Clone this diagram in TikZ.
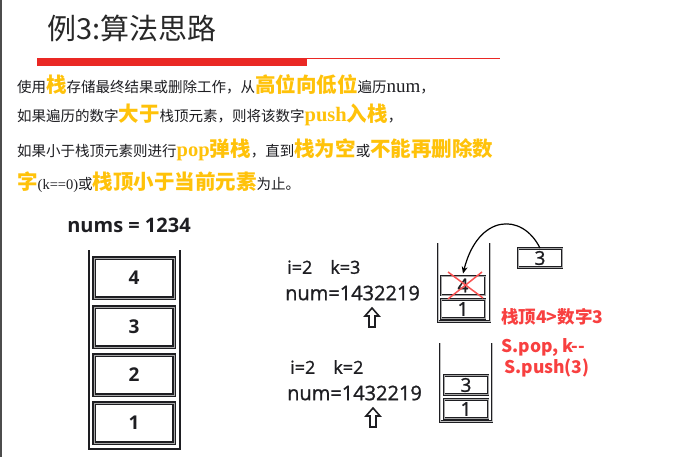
\documentclass[tikz,border=0pt]{standalone}
\usepackage{fontspec}
\setmainfont{Liberation Serif}
\newfontfamily\cjk{Noto Sans CJK SC}
\newfontfamily\osans{Open Sans}
\newfontfamily\osansmed[FakeBold=1.2]{Open Sans}
\usetikzlibrary{arrows.meta,calc,positioning}

\definecolor{hiyellow}{RGB}{255,194,10}
\definecolor{barred}{RGB}{234,40,36}
\definecolor{notered}{RGB}{248,64,64}
\definecolor{titlegray}{RGB}{40,40,40}
\definecolor{inkblack}{RGB}{30,30,34}

\newcommand{\hl}[1]{{\bfseries\fontsize{20.5}{20.5}\selectfont\color{hiyellow}#1}}
\newcommand{\hlrm}[1]{{\rmfamily\bfseries\fontsize{20.5}{20.5}\selectfont\color{hiyellow}#1}}
\newcommand{\lat}[2][14.5]{{\rmfamily\fontsize{#1}{#1}\selectfont #2}}

\begin{document}
\begin{tikzpicture}[x=1pt,y=-1pt,
  textline/.style={anchor=base west,inner sep=0pt,text=inkblack,
    font=\cjk\fontsize{14.5}{14.5}\selectfont},
  bigbox/.style={draw=inkblack,line width=1.2pt,double=black!35,double distance=0.7pt,
    minimum width=80,minimum height=40,inner sep=0pt,
    font=\osans\bfseries\fontsize{19}{19}\selectfont,text=inkblack},
  smallbox/.style={draw=inkblack,line width=0.9pt,double=black!35,double distance=0.6pt,
    minimum width=44,minimum height=19,inner sep=0pt,
    font=\osansmed\fontsize{19}{19}\selectfont,text=inkblack},
  info/.style={anchor=west,inner sep=0pt,text=inkblack,
    font=\osansmed\fontsize{18}{18}\selectfont},
  numline/.style={anchor=west,inner sep=0pt,text=inkblack,
    font=\osansmed\fontsize{20}{20}\selectfont},
  note/.style={anchor=west,inner sep=0pt,text=notered,
    font=\cjk\bfseries\fontsize{17.5}{17.5}\selectfont},
  wall/.style={draw=inkblack,line width=2.6pt},
  thinwall/.style={draw=inkblack,line width=1.1pt,double=black!25,double distance=0.5pt},
  uparrow/.style={draw=inkblack,line width=1.6pt,line join=miter},
  redx/.style={draw=notered!90!white,line width=1.5pt}]

  \useasboundingbox (0,0) rectangle (695,457);
  \fill[white] (0,0) rectangle (695,457);
  \draw[black!70,line width=1.5pt] (1,0) -- (1,457);

  % title and bar
  \node[anchor=west,inner sep=0pt,text=titlegray,font=\cjk\fontsize{29}{29}\selectfont]
    (title) at (47,28) {例3:算法思路};
  \fill[barred] (37,58) rectangle (307,66);
  \draw[barred,line width=0.8pt] (307,58.4) -- (500,58.4);

  % explanation
  \node[textline] (line1) at (17,93)
    {使用\hl{栈}存储最终结果或删除工作，从\hl{高位向低位}遍历\lat[19]{num}，};
  \node[textline] (line2) at (17,122)
    {如果遍历的数字\hl{大于}栈顶元素，则将该数字\hlrm{push}\hl{入栈}，};
  \node[textline] (line3) at (17,157)
    {如果小于栈顶元素则进行\hlrm{pop}\hl{弹栈}，直到\hl{栈为空}或\hl{不能再删除数}};
  \node[textline] (line4) at (17,189)
    {\hl{字}\lat{(k==0)}或\hl{栈顶小于当前元素}为止。};

  % left stack
  \node[inner sep=0pt,text=inkblack,font=\osans\bfseries\fontsize{20}{20}\selectfont]
    (nums) at (129,225) {nums = 1234};
  \foreach \d/\y in {4/278,3/327,2/375,1/423}
    \node[bigbox] (L\d) at (134,\y) {\d};
  \draw[wall] (89,250) -- (89,449) -- (180,449) -- (180,250);

  % first step
  \node[info] (ik1) at (287,267) {i=2\hspace{18pt}k=3};
  \node[numline] (num1) at (285,293) {num=1432219};
  \node[smallbox] (s1top) at (463,285.5) {4};
  \node[smallbox] (s1bot) at (463,309) {1};
  \draw[thinwall] (438,243) -- (438,321.5) -- (490,321.5) -- (490,243);
  \draw[redx] (448,272) -- (483,298);
  \draw[redx] (448,299) -- (482,272);
  \node[smallbox] (incoming) at (540,258) {3};
  \draw[line width=1.2pt,-{Stealth[length=7pt,width=6pt]}]
    (incoming.north) .. controls (522,212) and (478,214) .. ($(s1top.north)+(0,-2)$);

  \node[note] (cmp) at (501,317) {栈顶4>数字3};
  \node[note] (ops1) at (501,347) {S.pop, k-{}-};
  \node[note] (ops2) at (504,368) {S.push(3)};

  % second step
  \node[info] (ik2) at (290,367) {i=2\hspace{18pt}k=2};
  \node[numline] (num2) at (287,393) {num=1432219};
  \node[smallbox] (s2top) at (466,385) {3};
  \node[smallbox] (s2bot) at (466,409) {1};
  \draw[thinwall] (440,343) -- (440,421.5) -- (492,421.5) -- (492,343);

  % pointers
  \foreach \px/\py in {372/308,373/408}
    \draw[uparrow,shift={(\px,\py)}] (0,0) -- (7,8) -- (3,8) -- (3,19) -- (-3,19)
      -- (-3,8) -- (-7,8) -- cycle;
\end{tikzpicture}
\end{document}
